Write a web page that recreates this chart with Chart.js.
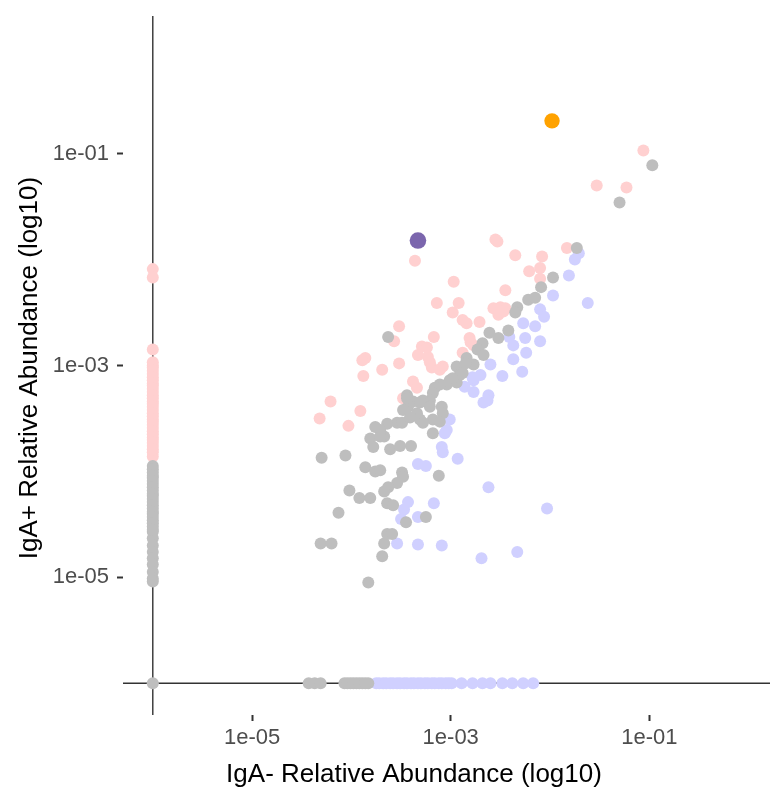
<!DOCTYPE html>
<html>
<head>
<meta charset="utf-8">
<title>IgA+ / IgA- relative abundance</title>
<script src="https://cdn.jsdelivr.net/npm/chart.js@4.4.0/dist/chart.umd.min.js"></script>
<style>
  html, body { margin: 0; padding: 0; background: #ffffff; overflow: hidden; }
  canvas { display: block; }
</style>
</head>
<body>
<canvas id="abundanceChart" width="770" height="790"></canvas>
<script>
// Relative abundances as log10 values; taxa absent from a fraction sit at the 1e-06 pseudo-count
const pseudoCountLog = -6;

// Not enriched (grey)
const grayLogX = [
  -6, -6, -6, -6, -6, -6, -6, -6, -6, -6, -6, -6, -6, -6, -6, -6, -6, -6, -6, -6,
  -6, -6, -6, -6, -6, -6, -6, -6, -6, -6, -6,
  -4.43, -4.37, -4.31, -4.07, -4.01, -3.95, -3.89, -3.83, -4.04, -3.98, -3.92, -3.86, -6,
  -0.97, -1.30, -1.73, -1.97, -2.09, -2.22, -2.15, -2.33, -2.35, -2.61, -2.52, -2.42,
  -2.68, -2.73, -2.67, -2.84, -2.94, -2.91, -3.01, -2.77, -2.88, -3.04, -3.11, -3.16,
  -3.18, -3.21, -3.28, -3.38, -3.44, -3.43, -3.48, -3.54, -3.21, -3.09, -3.08, -3.18,
  -3.31, -3.34, -3.28, -3.11, -3.18, -3.49, -3.64, -3.67, -3.71, -3.76, -3.81, -3.71,
  -3.78, -3.61, -3.51, -3.40, -3.44, -3.63, -4.30, -4.06, -3.86, -3.76, -3.71, -3.49,
  -3.48, -3.54, -3.63, -3.67, -4.02, -3.92, -3.81, -3.64, -3.58, -3.45, -3.25, -3.12,
  -4.13, -3.64, -3.59, -3.67, -4.31, -4.20, -3.69, -3.83, -3.31, -2.94, -3.41, -2.85,
  -2.98
];
const grayLogY = [
  -3.95, -4.01, -4.06, -4.12, -4.18, -4.23, -4.29, -4.35, -4.40, -4.46, -4.52, -4.57,
  -4.63, -4.70, -4.76, -4.82, -4.88, -4.95, -5.01, -5.04,
  -3.98, -4.04, -4.09, -4.15, -4.21, -4.26, -4.32, -4.38, -4.43, -4.49, -4.55,
  -6, -6, -6, -6, -6, -6, -6, -6, -6, -6, -6, -6, -6,
  -1.11, -1.46, -1.89, -2.17, -2.26, -2.38, -2.36, -2.45, -2.50, -2.69, -2.74, -2.67,
  -2.79, -2.85, -2.90, -2.93, -3.01, -3.09, -3.14, -2.99, -3.07, -3.18, -3.18, -3.21,
  -3.26, -3.33, -3.33, -3.34, -3.28, -3.39, -3.42, -3.54, -3.39, -3.39, -3.45, -3.51,
  -3.51, -3.45, -3.54, -3.53, -3.64, -3.54, -3.55, -3.67, -3.61, -3.58, -3.69, -3.67,
  -3.77, -3.79, -3.76, -3.76, -3.31, -2.73, -3.87, -3.85, -3.96, -4.00, -3.99, -4.01,
  -4.05, -4.11, -4.15, -4.19, -4.18, -4.25, -4.25, -4.30, -4.32, -4.48, -4.43, -4.04,
  -4.39, -4.59, -4.59, -4.68, -4.68, -4.68, -4.80, -5.05, -3.35, -3.16, -3.49, -2.98,
  -3.12
];

// IgA+ enriched (pink)
const pinkLogX = [
  -6, -6, -6, -6, -6, -6, -6, -6, -6, -6, -6, -6, -6, -6, -6, -6, -6, -6, -6, -6,
  -6, -6, -6, -6, -6, -6, -6, -6, -6, -6, -6, -6, -6, -6, -6,
  -1.06, -1.53, -1.23, -2.55, -2.53, -2.35, -2.08, -1.83, -2.21, -2.10, -2.10, -2.45,
  -2.57, -2.50, -2.45, -2.52, -2.47, -3.36, -2.97, -3.14, -2.92, -2.98, -2.88, -2.84,
  -2.71, -3.52, -3.57, -3.17, -2.81, -2.77, -2.80, -3.29, -3.24, -3.33, -3.23, -3.21,
  -2.88, -3.86, -3.89, -3.52, -3.69, -3.19, -3.08, -3.11, -3.88, -3.38, -3.34, -3.48,
  -4.21, -4.32, -3.91, -4.03
];
const pinkLogY = [
  -2.09, -2.17, -2.85, -2.97, -3.02, -3.08, -3.14, -3.19, -3.25, -3.31, -3.36, -3.42,
  -3.48, -3.53, -3.59, -3.65, -3.70, -3.76, -3.82, -3.86,
  -3.00, -3.05, -3.11, -3.17, -3.22, -3.28, -3.34, -3.39, -3.45, -3.51, -3.56, -3.62,
  -3.68, -3.73, -3.79,
  -0.97, -1.30, -1.32, -1.81, -1.83, -1.96, -1.97, -1.89, -2.11, -2.08, -2.18, -2.29,
  -2.46, -2.45, -2.46, -2.52, -2.49, -2.01, -2.21, -2.41, -2.41, -2.50, -2.57, -2.60,
  -2.59, -2.63, -2.77, -2.73, -2.74, -2.81, -2.78, -2.82, -2.83, -2.90, -2.92, -2.97,
  -2.88, -2.93, -2.95, -2.98, -3.04, -3.02, -3.01, -3.04, -3.10, -3.15, -3.21, -3.31,
  -3.34, -3.50, -3.43, -3.57
];

// IgA- enriched (lavender)
const lavenderLogX = [
  -3.75, -3.68, -3.61, -3.54, -3.47, -3.40, -3.33, -3.26, -3.19, -3.12, -3.05, -2.99,
  -2.89, -2.78, -2.68, -2.60, -2.48, -2.38, -2.27, -2.17,
  -3.72, -3.65, -3.58, -3.51, -3.44, -3.37, -3.30, -3.23, -3.16, -3.09, -3.02,
  -1.71, -1.75, -1.81, -1.97, -1.62, -2.10, -2.06, -2.15, -2.27, -2.41, -2.37, -2.25,
  -2.10, -2.24, -2.37, -2.28, -2.48, -2.60, -2.70, -2.77, -2.86, -2.77, -2.62, -2.67,
  -2.63, -3.01, -3.04, -3.06, -3.09, -3.08, -2.93, -3.33, -3.25, -2.62, -2.03, -3.43,
  -3.47, -3.50, -3.33, -3.17, -3.54, -3.33, -3.09, -2.69, -2.33, -2.78
];
const lavenderLogY = [
  -6, -6, -6, -6, -6, -6, -6, -6, -6, -6, -6, -6, -6, -6, -6, -6, -6, -6, -6, -6,
  -6, -6, -6, -6, -6, -6, -6, -6, -6, -6, -6,
  -1.94, -2.00, -2.15, -2.34, -2.41, -2.47, -2.54, -2.63, -2.60, -2.73, -2.81, -2.74,
  -2.77, -2.88, -2.94, -3.06, -3.10, -2.99, -3.09, -3.14, -3.20, -3.25, -3.28, -3.35,
  -3.33, -3.51, -3.61, -3.64, -3.77, -3.82, -3.88, -3.93, -3.95, -4.15, -4.35, -4.29,
  -4.36, -4.45, -4.43, -4.30, -4.68, -4.69, -4.70, -4.82, -4.76, -3.11
];

// Highlighted taxa
const purpleLogX = [-3.33];
const purpleLogY = [-1.82];
const orangeLogX = [-1.98];
const orangeLogY = [-0.69];

// Axes
const tickValues = [1e-5, 1e-3, 1e-1];
const tickLabels = ['1e-05', '1e-03', '1e-01'];
const xTitle = 'IgA- Relative Abundance (log10)';
const yTitle = 'IgA+ Relative Abundance (log10)';
const xRangeLog = [-6.3, 0.215];
const yRangeLog = [-6.3, 0.3];

const fontFamily = '"Liberation Sans", Arial, Helvetica, sans-serif';

function toPoints(logX, logY) {
    return logX.map((lx, i) => ({ x: Math.pow(10, lx), y: Math.pow(10, logY[i]) }));
}

function dataset(label, logX, logY, color, radius) {
    return {
        label: label,
        data: toPoints(logX, logY),
        backgroundColor: color,
        borderWidth: 0,
        pointRadius: radius,
        pointHoverRadius: radius
    };
}

// Lines through the pseudo-count on both axes, drawn under the points
const zeroLines = {
    id: 'zeroLines',
    beforeDatasetsDraw(chart) {
        const { ctx, chartArea, scales } = chart;
        const x0 = scales.x.getPixelForValue(Math.pow(10, pseudoCountLog));
        const y0 = scales.y.getPixelForValue(Math.pow(10, pseudoCountLog));
        ctx.save();
        ctx.strokeStyle = '#333333';
        ctx.lineWidth = 1.4;
        ctx.beginPath();
        ctx.moveTo(x0, chartArea.top);
        ctx.lineTo(x0, chartArea.bottom);
        ctx.moveTo(chartArea.left, y0);
        ctx.lineTo(chartArea.right, y0);
        ctx.stroke();
        ctx.restore();
    }
};

// Axis titles
const axisTitles = {
    id: 'axisTitles',
    afterDraw(chart) {
        const { ctx } = chart;
        ctx.save();
        ctx.fillStyle = '#000000';
        ctx.font = '26px ' + fontFamily;
        ctx.textAlign = 'center';
        ctx.textBaseline = 'alphabetic';
        ctx.fillText(xTitle, 414, 782);
        ctx.translate(37, 368);
        ctx.rotate(-Math.PI / 2);
        ctx.fillText(yTitle, 0, 0);
        ctx.restore();
    }
};

function axisOptions(range, size, padding) {
    return {
        type: 'logarithmic',
        min: Math.pow(10, range[0]),
        max: Math.pow(10, range[1]),
        afterBuildTicks: (scale) => {
            scale.ticks = tickValues.map(v => ({ value: v }));
        },
        afterFit: (scale) => {
            size(scale);
            // no extra room for overhanging labels
            scale.paddingLeft = 0;
            scale.paddingRight = 0;
            scale.paddingTop = 0;
            scale.paddingBottom = 0;
        },
        ticks: {
            callback: (value, index) => tickLabels[index],
            color: '#4d4d4d',
            font: { family: fontFamily, size: 22 },
            padding: padding,
            autoSkip: false,
            maxRotation: 0
        },
        grid: {
            drawOnChartArea: false,
            drawTicks: true,
            tickLength: 6,
            tickColor: '#333333',
            tickWidth: 2
        },
        border: { display: false }
    };
}

document.addEventListener('DOMContentLoaded', function () {
    const ctx = document.getElementById('abundanceChart').getContext('2d');
    new Chart(ctx, {
        type: 'scatter',
        data: {
            datasets: [
                dataset('Not enriched', grayLogX, grayLogY, '#bebebe', 6),
                dataset('IgA+ enriched', pinkLogX, pinkLogY, '#ffd0d0', 6),
                dataset('IgA- enriched', lavenderLogX, lavenderLogY, '#d0d0ff', 6),
                dataset('Highlight A', purpleLogX, purpleLogY, '#7b66ad', 8.3),
                dataset('Highlight B', orangeLogX, orangeLogY, '#ffa200', 7.7)
            ]
        },
        options: {
            responsive: false,
            animation: false,
            devicePixelRatio: 1,
            layout: {
                autoPadding: false,
                padding: { top: 16, right: 0, bottom: 0, left: 0 }
            },
            plugins: {
                legend: { display: false },
                tooltip: { enabled: false }
            },
            scales: {
                x: axisOptions(xRangeLog, (scale) => { scale.height = 75; }, 4),
                y: axisOptions(yRangeLog, (scale) => { scale.width = 123; }, 8)
            }
        },
        plugins: [zeroLines, axisTitles]
    });
});
</script>
</body>
</html>
